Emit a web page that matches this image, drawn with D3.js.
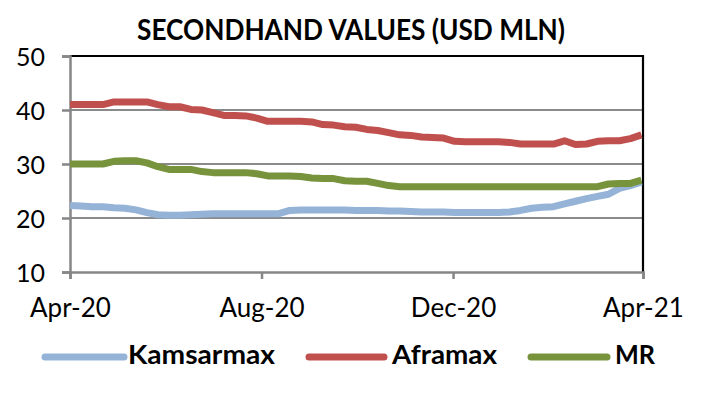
<!DOCTYPE html>
<html>
<head>
<meta charset="utf-8">
<script src="https://cdn.jsdelivr.net/npm/d3@7"></script>
<style>
  html, body { margin: 0; padding: 0; background: #fff; }
  svg { display: block; font-family: Lato, "Open Sans", sans-serif; }
</style>
</head>
<body>
<svg id="chart" width="715" height="399"></svg>
<script>
const title = "SECONDHAND VALUES (USD MLN)";
const dates = ["2020-04-01","2020-04-08","2020-04-15","2020-04-22","2020-04-29","2020-05-06","2020-05-13","2020-05-20","2020-05-27","2020-06-03","2020-06-10","2020-06-17","2020-06-24","2020-07-01","2020-07-08","2020-07-15","2020-07-22","2020-07-29","2020-08-05","2020-08-12","2020-08-19","2020-08-26","2020-09-02","2020-09-09","2020-09-16","2020-09-23","2020-09-30","2020-10-07","2020-10-14","2020-10-21","2020-10-28","2020-11-04","2020-11-11","2020-11-18","2020-11-25","2020-12-02","2020-12-09","2020-12-16","2020-12-23","2020-12-30","2021-01-06","2021-01-13","2021-01-20","2021-01-27","2021-02-03","2021-02-10","2021-02-17","2021-02-24","2021-03-03","2021-03-10","2021-03-17","2021-03-24","2021-03-31"];
const kamsarmax = [22.3,22.2,22.1,22.1,21.9,21.8,21.5,21.0,20.6,20.5,20.5,20.6,20.7,20.8,20.8,20.8,20.8,20.8,20.8,20.8,21.4,21.5,21.5,21.5,21.5,21.5,21.4,21.4,21.4,21.3,21.3,21.2,21.1,21.1,21.1,21.0,21.0,21.0,21.0,21.0,21.1,21.4,21.8,22.0,22.1,22.6,23.1,23.6,24.0,24.4,25.5,26.0,26.7];
const aframax = [41.0,41.0,41.0,41.0,41.5,41.5,41.5,41.5,41.0,40.6,40.6,40.1,40.0,39.5,39.0,39.0,38.9,38.5,37.9,37.9,37.9,37.9,37.8,37.3,37.2,36.9,36.8,36.4,36.2,35.8,35.4,35.3,35.0,34.9,34.8,34.2,34.1,34.1,34.1,34.1,34.0,33.7,33.7,33.7,33.7,34.3,33.6,33.7,34.2,34.3,34.3,34.7,35.4];
const mr = [30.0,30.0,30.0,30.0,30.5,30.6,30.6,30.2,29.5,29.0,29.0,29.0,28.6,28.4,28.4,28.4,28.4,28.2,27.8,27.8,27.8,27.7,27.4,27.3,27.3,26.9,26.8,26.8,26.4,26.0,25.8,25.8,25.8,25.8,25.8,25.8,25.8,25.8,25.8,25.8,25.8,25.8,25.8,25.8,25.8,25.8,25.8,25.8,25.8,26.3,26.4,26.4,27.0];
const seriesNames = ["Kamsarmax", "Aframax", "MR"];
const seriesColors = ["#95B3D7", "#C0504D", "#77933C"];
const xTickDates = ["2020-04-01","2020-08-01","2020-12-01","2021-04-01"];
const xTickLabels = ["Apr-20","Aug-20","Dec-20","Apr-21"];
const yTicks = [10,20,30,40,50];

const parse = d3.timeParse("%Y-%m-%d");
const svg = d3.select("#chart");
const L = 70, R = 643, T = 56, B = 272;

const x = d3.scaleTime().domain([parse("2020-04-01"), parse("2021-04-01")]).range([L, R]);
const y = d3.scaleLinear().domain([10, 50]).range([B, T]);

// title
svg.append("text").attr("x", 351).attr("y", 40).attr("text-anchor", "middle")
  .attr("font-weight", 700).attr("font-size", 28).attr("fill", "#000")
  .attr("textLength", 428).attr("lengthAdjust", "spacingAndGlyphs")
  .text(title);

// gridlines
svg.append("g").selectAll("line").data(yTicks.filter(v => v > 10 && v < 50)).join("line")
  .attr("x1", L).attr("x2", R).attr("y1", d => y(d)).attr("y2", d => y(d))
  .attr("stroke", "#8a8a8a").attr("stroke-width", 2);

// top & right border
svg.append("path")
  .attr("d", `M${L},${y(50)}H${R}V${y(10)}`)
  .attr("fill", "none").attr("stroke", "#000").attr("stroke-width", 2.2);

// y axis
const yAxis = d3.axisLeft(y).tickValues(yTicks).tickSize(8).tickPadding(17).tickFormat(d3.format("d"));
const gy = svg.append("g").attr("transform", `translate(${L},0)`).call(yAxis);
gy.select(".domain").attr("stroke", "#868686").attr("stroke-width", 2.5);
gy.selectAll(".tick line").attr("stroke", "#868686").attr("stroke-width", 2.5);
gy.selectAll(".tick text").attr("font-family", "Lato, sans-serif").attr("font-size", 25).attr("fill", "#000").attr("dy", "0.36em");

// x axis
const xAxis = d3.axisBottom(x).tickValues(xTickDates.map(parse)).tickSize(7).tickPadding(20)
  .tickFormat((d, i) => xTickLabels[i]);
const gx = svg.append("g").attr("transform", `translate(0,${B})`).call(xAxis);
gx.select(".domain").attr("stroke", "#868686").attr("stroke-width", 2.5);
gx.selectAll(".tick line").attr("stroke", "#868686").attr("stroke-width", 2.5);
gx.selectAll(".tick text").attr("font-family", "Lato, sans-serif").attr("font-size", 26).attr("fill", "#000");

// lines
const allSeries = [kamsarmax, aframax, mr];
const line = d3.line().x((d, i) => x(parse(dates[i]))).y(d => y(d));
svg.append("g").selectAll("path").data(allSeries).join("path")
  .attr("d", d => line(d))
  .attr("fill", "none")
  .attr("stroke", (d, i) => seriesColors[i])
  .attr("stroke-width", 7)
  .attr("stroke-linejoin", "round")
  .attr("stroke-linecap", "butt");

// legend
const legendLineX = [[45, 124], [309, 384], [531, 607]];
const legendTextX = [128, 392, 615];
const legendTextW = [147, 105, 40];
const lg = svg.append("g");
seriesNames.forEach((name, i) => {
  lg.append("line").attr("x1", legendLineX[i][0]).attr("x2", legendLineX[i][1])
    .attr("y1", 357).attr("y2", 357)
    .attr("stroke", seriesColors[i]).attr("stroke-width", 7).attr("stroke-linecap", "round");
  lg.append("text").attr("x", legendTextX[i]).attr("y", 364)
    .attr("font-weight", 700).attr("font-size", 26).attr("fill", "#000")
    .attr("textLength", legendTextW[i]).attr("lengthAdjust", "spacingAndGlyphs")
    .text(name);
});
</script>
</body>
</html>
